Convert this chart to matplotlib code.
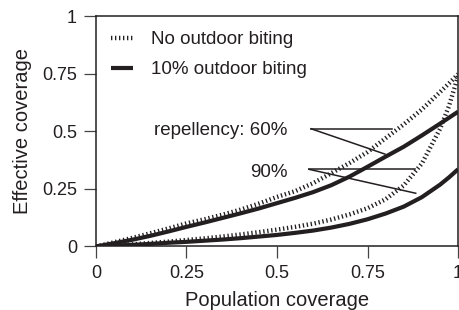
import matplotlib
matplotlib.use("Agg")
import matplotlib.pyplot as plt

plt.rcParams['font.family'] = ['Liberation Sans', 'DejaVu Sans']

# population coverage grid
coverage = [0, 0.05, 0.1, 0.15, 0.2, 0.25, 0.3, 0.35, 0.4, 0.45, 0.5,
            0.55, 0.6, 0.65, 0.7, 0.75, 0.8, 0.85, 0.9, 0.95, 0.975, 1.0]

# effective coverage
no_out_60 = [0, 0.018, 0.037, 0.057, 0.078, 0.1, 0.118, 0.138, 0.16, 0.186, 0.215,
             0.24, 0.275, 0.318, 0.362, 0.41, 0.47, 0.53, 0.595, 0.67, 0.708, 0.748]
out10_60 = [0, 0.014, 0.029, 0.046, 0.065, 0.085, 0.104, 0.124, 0.144, 0.165, 0.188,
            0.211, 0.236, 0.266, 0.303, 0.346, 0.39, 0.433, 0.482, 0.533, 0.559, 0.585]
no_out_90 = [0, 0.004, 0.009, 0.015, 0.021, 0.028, 0.035, 0.043, 0.052, 0.062, 0.073,
             0.085, 0.099, 0.117, 0.139, 0.166, 0.205, 0.265, 0.36, 0.51, 0.61, 0.74]
out10_90 = [0, 0.003, 0.007, 0.011, 0.016, 0.02, 0.025, 0.03, 0.036, 0.043, 0.05,
            0.059, 0.069, 0.082, 0.098, 0.118, 0.143, 0.173, 0.214, 0.268, 0.3, 0.335]

ticks = [0, 0.25, 0.5, 0.75, 1]
tick_labels = ['0', '0.25', '0.5', '0.75', '1']

fig = plt.figure(figsize=(4.59, 3.10), dpi=100)
ax = fig.add_axes([0.209, 0.205, 0.789, 0.743])

dot = (0, (0.3, 0.6))
ax.plot(coverage, no_out_60, color='#231f20', linewidth=3.2, linestyle=dot, label='No outdoor biting')
ax.plot(coverage, out10_60, color='#231f20', linewidth=3.0, solid_capstyle='butt', label='10% outdoor biting')
ax.plot(coverage, no_out_90, color='#231f20', linewidth=3.2, linestyle=dot)
ax.plot(coverage, out10_90, color='#231f20', linewidth=3.0, solid_capstyle='butt')

# annotation pointer lines
ax.plot([0.594, 0.818], [0.511, 0.511], color='#231f20', linewidth=1.1)
ax.plot([0.594, 0.798], [0.511, 0.401], color='#231f20', linewidth=1.1)
ax.plot([0.588, 0.881], [0.335, 0.335], color='#231f20', linewidth=1.1)
ax.plot([0.588, 0.883], [0.335, 0.231], color='#231f20', linewidth=1.1)
ax.text(0.53, 0.484, 'repellency: 60%', fontsize=13.5, ha='right', va='baseline', color='#231f20')
ax.text(0.528, 0.301, '90%', fontsize=13.5, ha='right', va='baseline', color='#231f20')

ax.set_xlim(0, 1)
ax.set_ylim(0, 1)
ax.set_xticks(ticks)
ax.set_xticklabels(tick_labels)
ax.set_yticks(ticks)
ax.set_yticklabels(tick_labels)
ax.tick_params(direction='out', length=8.6, width=0.9, labelsize=13, pad=5, color='#444444', labelcolor='#231f20')
for s in ax.spines.values():
    s.set_linewidth(1.1)
    s.set_color('#231f20')

ax.set_xlabel('Population coverage', fontsize=14.5, color='#231f20', labelpad=6)
ax.set_ylabel('Effective coverage', fontsize=14.5, color='#231f20', labelpad=7)

leg = ax.legend(loc='upper left', frameon=False, fontsize=13.5, handlelength=1.2,
                handletextpad=0.95, labelspacing=0.68, borderaxespad=0.3, borderpad=0.5)
for t in leg.get_texts():
    t.set_color('#231f20')

fig.savefig('out.png', dpi=100)
